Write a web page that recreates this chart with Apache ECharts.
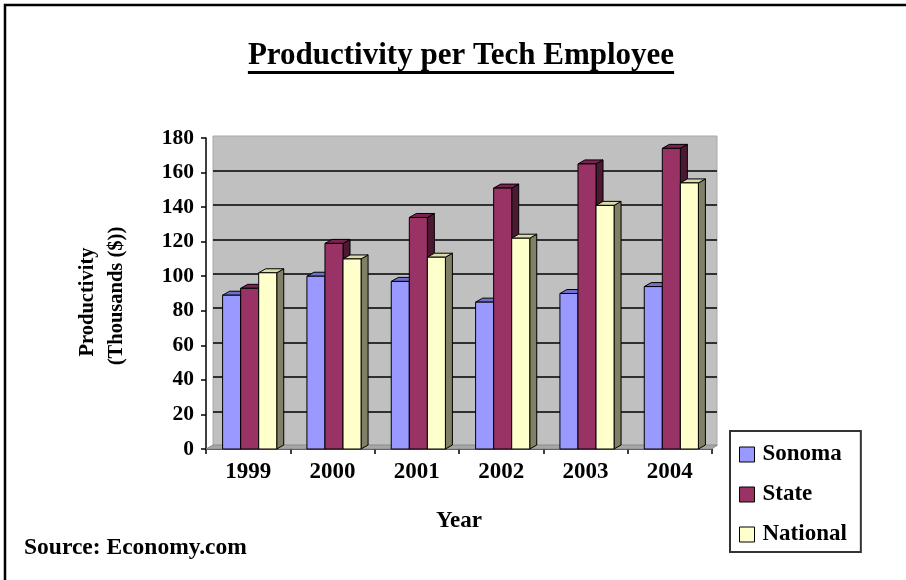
<!DOCTYPE html>
<html>
<head>
<meta charset="utf-8">
<title>Productivity per Tech Employee</title>
<script src="https://cdn.jsdelivr.net/npm/echarts@6/dist/echarts.min.js"></script>
<style>
  html, body { margin: 0; padding: 0; background: #fff; }
  #chart { width: 906px; height: 580px; }
</style>
</head>
<body>
<div id="chart"></div>
<script>
// Productivity per tech employee, thousands of dollars
const years = ['1999', '2000', '2001', '2002', '2003', '2004'];
const sonoma = [89, 100, 97, 85, 90, 94];
const state = [93, 119, 134, 151, 165, 174];
const national = [102, 110, 111, 122, 141, 154];
const yTicks = [0, 20, 40, 60, 80, 100, 120, 140, 160, 180];

const FONT = '"Liberation Serif", "Times New Roman", serif';

// face colours per series: front, top, side
const palette = [
  { name: 'Sonoma',   front: '#9999ff', top: '#6f6fd0', side: '#4c4c99' },
  { name: 'State',    front: '#993366', top: '#7a2350', side: '#4c1933' },
  { name: 'National', front: '#ffffcc', top: '#dcdcaa', side: '#808066' }
];
const seriesData = [sonoma, state, national];

const BAR_FRAC = 0.214;   // bar width as a share of one category
const DEPTH_X = 7;        // 3D extrusion offsets
const DEPTH_Y = -4;

function makeRenderer(idx) {
  const c = palette[idx];
  return function (params, api) {
    const cat = api.value(0);
    const val = api.value(1);
    const base = api.coord([cat, 0]);
    const top = api.coord([cat, val]);
    const catW = api.size([1, 0])[0];
    const bw = catW * BAR_FRAC;
    const x0 = base[0] - 1.5 * bw + idx * bw + 1.5;
    const x1 = x0 + bw;
    const ty = top[1];
    const by = base[1];
    const stroke = { stroke: '#000', lineWidth: 1 };
    return {
      type: 'group',
      children: [
        {
          type: 'polygon',
          shape: { points: [[x1, ty], [x1 + DEPTH_X, ty + DEPTH_Y], [x1 + DEPTH_X, by + DEPTH_Y], [x1, by]] },
          style: Object.assign({ fill: c.side }, stroke)
        },
        {
          type: 'polygon',
          shape: { points: [[x0, ty], [x0 + DEPTH_X, ty + DEPTH_Y], [x1 + DEPTH_X, ty + DEPTH_Y], [x1, ty]] },
          style: Object.assign({ fill: c.top }, stroke)
        },
        {
          type: 'rect',
          shape: { x: x0, y: ty, width: bw, height: by - ty },
          style: Object.assign({ fill: c.front }, stroke)
        }
      ]
    };
  };
}

// underline width for the title, measured with the same font
const TITLE_TEXT = 'Productivity per Tech Employee';
const TITLE_FONT_SIZE = 31;
const measureCtx = document.createElement('canvas').getContext('2d');
measureCtx.font = 'bold ' + TITLE_FONT_SIZE + 'px ' + FONT;
const titleW = measureCtx.measureText(TITLE_TEXT).width;
const TITLE_CX = 461;

const gridColors = yTicks.map((t, i) => (i === 0 || i === yTicks.length - 1) ? 'rgba(0,0,0,0)' : '#000');

const chart = echarts.init(document.getElementById('chart'), null, { renderer: 'canvas' });

chart.setOption({
  backgroundColor: '#fff',
  animation: false,
  textStyle: { fontFamily: FONT },
  grid: [
    // back wall
    { left: 213, right: 189, top: 136, bottom: 134, show: true, backgroundColor: '#c0c0c0',
      borderColor: '#a8a8a8', borderWidth: 1 },
    // front plane with axes and bars
    { left: 206, right: 194, top: 138, bottom: 131 }
  ],
  xAxis: [
    { gridIndex: 0, type: 'category', data: years, show: false },
    {
      gridIndex: 1, type: 'category', data: years,
      axisLine: { lineStyle: { color: '#000', width: 1.5 } },
      axisTick: { show: true, length: 5, lineStyle: { color: '#000', width: 1.5 } },
      axisLabel: { color: '#000', fontFamily: FONT, fontWeight: 'bold', fontSize: 23, margin: 12 },
      splitLine: { show: false }
    }
  ],
  yAxis: [
    {
      gridIndex: 0, type: 'value', min: 0, max: 180, interval: 20,
      axisLine: { show: false }, axisTick: { show: false }, axisLabel: { show: false },
      splitLine: { show: true, lineStyle: { color: gridColors, width: 1.5 } }
    },
    {
      gridIndex: 1, type: 'value', min: 0, max: 180, interval: 20,
      axisLine: { show: true, lineStyle: { color: '#000', width: 1.5 } },
      axisTick: { show: true, inside: false, length: 5, lineStyle: { color: '#000', width: 1.5 } },
      axisLabel: { color: '#000', fontFamily: FONT, fontWeight: 'bold', fontSize: 21.5, margin: 12 },
      splitLine: { show: false }
    }
  ],
  legend: {
    orient: 'vertical',
    left: 730, top: 431,
    padding: [12, 14, 6, 9],
    itemGap: 17,
    itemWidth: 15, itemHeight: 15,
    icon: 'rect',
    borderColor: '#333', borderWidth: 2,
    backgroundColor: '#fff',
    itemStyle: { borderColor: '#000', borderWidth: 1 },
    textStyle: { color: '#000', fontFamily: FONT, fontWeight: 'bold', fontSize: 23, lineHeight: 23,
                 padding: [0, 0, 0, 3] },
    data: palette.map(p => p.name)
  },
  series: palette.map((p, i) => ({
    type: 'custom',
    name: p.name,
    xAxisIndex: 1, yAxisIndex: 1,
    itemStyle: { color: p.front },
    renderItem: makeRenderer(i),
    encode: { x: 0, y: 1 },
    data: seriesData[i].map((v, k) => [k, v]),
    z: 3
  })),
  graphic: [
    // floor strip under the bars
    { type: 'polygon', z: 1, silent: true,
      shape: { points: [[206, 449], [712, 449], [717, 445], [213, 445]] },
      style: { fill: '#a6a6a6', stroke: '#8a8a8a', lineWidth: 1 } },
    // outer frame
    { type: 'rect', shape: { x: 5, y: 5, width: 1000, height: 1000 },
      style: { fill: 'none', stroke: '#000', lineWidth: 2.5 }, silent: true, z: 10 },
    // title with underline
    { type: 'text', x: TITLE_CX, y: 56,
      style: { text: TITLE_TEXT, fontFamily: FONT, fontWeight: 'bold', fontSize: TITLE_FONT_SIZE, fill: '#000',
               align: 'center', verticalAlign: 'middle' } },
    { type: 'rect', shape: { x: TITLE_CX - titleW / 2, y: 71, width: titleW, height: 3 },
      style: { fill: '#000' } },
    // y-axis title, two rotated lines
    { type: 'text', x: 88, y: 302, rotation: Math.PI / 2,
      style: { text: 'Productivity', fontFamily: FONT, fontWeight: 'bold', fontSize: 20.5, fill: '#000',
               align: 'center', verticalAlign: 'middle' } },
    { type: 'text', x: 117, y: 296, rotation: Math.PI / 2,
      style: { text: '(Thousands ($))', fontFamily: FONT, fontWeight: 'bold', fontSize: 20.5, fill: '#000',
               align: 'center', verticalAlign: 'middle' } },
    // x-axis title
    { type: 'text', x: 459, y: 521,
      style: { text: 'Year', fontFamily: FONT, fontWeight: 'bold', fontSize: 23, fill: '#000',
               align: 'center', verticalAlign: 'middle' } },
    // source note
    { type: 'text', x: 24, y: 548,
      style: { text: 'Source: Economy.com', fontFamily: FONT, fontWeight: 'bold', fontSize: 23.5, fill: '#000',
               align: 'left', verticalAlign: 'middle' } }
  ]
});
</script>
</body>
</html>
